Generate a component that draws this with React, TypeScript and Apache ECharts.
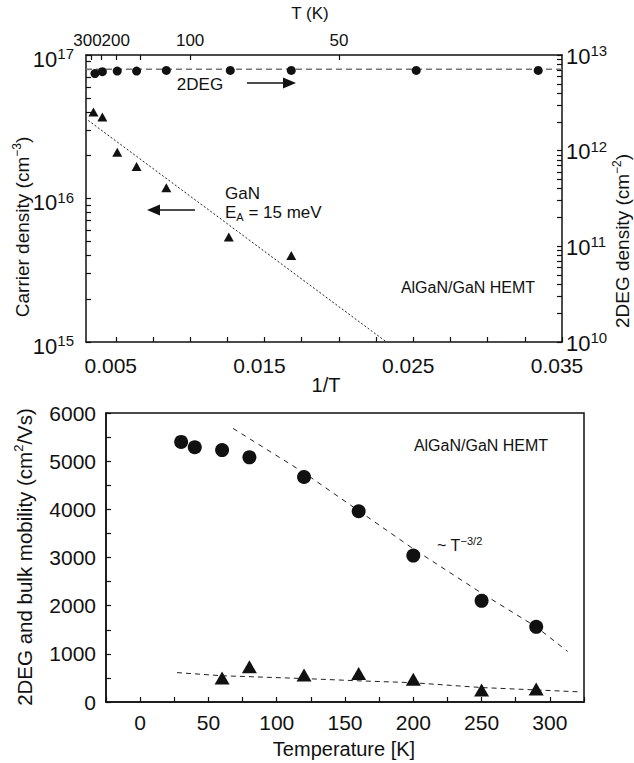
import React, { useEffect, useRef } from 'react';
import * as echarts from 'echarts';

// ---------- Top panel (x = 1/T in 1/K) ----------
const invT2DEG = [0.0036, 0.0041, 0.0051, 0.0064, 0.0084, 0.0127, 0.0168, 0.0252, 0.0334];
const dens2DEG = [6.4e12, 6.7e12, 6.8e12, 6.8e12, 6.9e12, 6.9e12, 6.9e12, 6.9e12, 6.9e12];
const ref2DEGx = [0.003, 0.035];
const ref2DEGy = [7.1e12, 7.1e12];
const invTGaN = [0.0035, 0.0041, 0.0051, 0.0064, 0.0084, 0.0126, 0.0168];
const densGaN = [4.0e16, 3.7e16, 2.1e16, 1.67e16, 1.19e16, 5.4e15, 4.0e15];
const fitGaNx = [0.00315, 0.0232];
const fitGaNy = [3.5e16, 1e15];

const invTTicks = [0.005, 0.0075, 0.01, 0.0125, 0.015, 0.0175, 0.02, 0.0225, 0.025, 0.0275, 0.03, 0.0325, 0.035];
const invTLabels = [0.005, 0.015, 0.025, 0.035];
const topTickTemps = [300, 250, 200, 150, 100, 50];
const topLabelTemps = [300, 200, 100, 50];
const leftDecades = [1e15, 1e16, 1e17];
const rightDecades = [1e10, 1e11, 1e12, 1e13];
const mantissas = [1, 2, 3, 4, 5, 6, 7, 8, 9];

// ---------- Bottom panel (mobility vs T) ----------
const tempMob = [30, 40, 60, 80, 120, 160, 200, 250, 290];
const mob2DEG = [5400, 5290, 5230, 5080, 4670, 3960, 3040, 2100, 1560];
const tempBulk = [60, 80, 120, 160, 200, 250, 290];
const mobBulk = [500, 730, 560, 590, 470, 250, 270];
const fit2DEGT = [68, 120, 200, 250, 290, 313];
const fit2DEGMob = [5680, 4760, 3180, 2260, 1560, 1050];
const fitBulkT = [27, 60, 117, 160, 200, 250, 322];
const fitBulkMob = [610, 545, 490, 440, 400, 300, 210];
const tempLabels = [0, 50, 100, 150, 200, 250, 300];
const mobLabels = [0, 1000, 2000, 3000, 4000, 5000, 6000];

const font = 'Liberation Sans, Arial, Helvetica, sans-serif';
const ink = '#111';

const zip = (a: number[], b: number[]) => a.map((v, i) => [v, b[i]]);
const logTicks = (decades: number[]) => {
  const out: number[] = [];
  decades.forEach((d, i) => {
    if (i === decades.length - 1) out.push(d);
    else mantissas.forEach((m) => out.push(m * d));
  });
  return out;
};

const supRich = {
  b: { fontSize: 22, fontFamily: font, color: ink, lineHeight: 24, verticalAlign: 'bottom' },
  s: { fontSize: 15, fontFamily: font, color: ink, lineHeight: 14, verticalAlign: 'top' },
};
const supLabel = (v: number) => `{b|10}{s|${Math.round(Math.log10(v))}}`;

const axisLine = { show: true, onZero: false, lineStyle: { color: ink, width: 1.5 } };
const tickStyle = { color: ink, width: 1.2 };
const labelBase = { hideOverlap: false, showMinLabel: true, showMaxLabel: true };

function buildOption(): any {
  return {
    animation: false,
    backgroundColor: '#fff',
    grid: [
      { left: 86, top: 55, width: 476, height: 287, show: false },
      { left: 106, top: 413, width: 478, height: 289, show: true, borderColor: ink, borderWidth: 1.5, backgroundColor: 'transparent' },
    ],
    xAxis: [
      {
        type: 'value', gridIndex: 0, position: 'bottom', min: 0.003, max: 0.035,
        axisLine, splitLine: { show: false },
        axisTick: { show: true, inside: true, length: 5, customValues: invTTicks, lineStyle: tickStyle },
        axisLabel: {
          ...labelBase,
          customValues: invTLabels, formatter: (v: number) => v.toFixed(3),
          fontSize: 21, color: ink, fontFamily: font, margin: 13, padding: [0, 10, 0, 0],
        },
      },
      {
        type: 'value', gridIndex: 0, position: 'top', min: 0.003, max: 0.035,
        axisLine, splitLine: { show: false },
        axisTick: { show: true, inside: true, length: 5, customValues: topTickTemps.map((t) => 1 / t), lineStyle: tickStyle },
        axisLabel: {
          ...labelBase,
          customValues: topLabelTemps.slice(1).map((t) => 1 / t), formatter: (v: number) => String(Math.round(1 / v)),
          fontSize: 17, color: ink, fontFamily: font, margin: 6,
        },
      },
      {
        type: 'value', gridIndex: 1, position: 'bottom', min: -25, max: 325, interval: 25,
        axisLine, splitLine: { show: false },
        axisTick: { show: true, inside: true, length: 5, lineStyle: tickStyle },
        axisLabel: {
          ...labelBase,
          customValues: tempLabels, formatter: (v: number) => String(v),
          fontSize: 21, color: ink, fontFamily: font, margin: 10,
        },
      },
      {
        type: 'value', gridIndex: 0, position: 'top', min: 0.003, max: 0.035,
        axisLine: { show: false }, axisTick: { show: false }, splitLine: { show: false },
        axisLabel: {
          ...labelBase,
          customValues: topLabelTemps.slice(0, 1).map((t) => 1 / t), formatter: (v: number) => String(Math.round(1 / v)),
          fontSize: 17, color: ink, fontFamily: font, margin: 6, padding: [0, 7, 0, 0],
        },
      },
    ],
    yAxis: [
      {
        type: 'log', logBase: 10, gridIndex: 0, position: 'left', min: 1e15, max: 1e17,
        axisLine, splitLine: { show: false },
        axisTick: { show: true, inside: true, length: 5, customValues: logTicks(leftDecades), lineStyle: tickStyle },
        axisLabel: { ...labelBase, customValues: leftDecades, formatter: supLabel, rich: supRich, margin: 12, padding: [6, 0, 0, 0] },
      },
      {
        type: 'log', logBase: 10, gridIndex: 0, position: 'right', min: 1e10, max: 1e13,
        axisLine, splitLine: { show: false },
        axisTick: { show: true, inside: true, length: 5, customValues: logTicks(rightDecades), lineStyle: tickStyle },
        axisLabel: { ...labelBase, customValues: rightDecades, formatter: supLabel, rich: supRich, margin: 4 },
      },
      {
        type: 'value', gridIndex: 1, position: 'left', min: 0, max: 6000, interval: 500,
        axisLine, splitLine: { show: false },
        axisTick: { show: true, inside: true, length: 5, lineStyle: tickStyle },
        axisLabel: {
          ...labelBase,
          customValues: mobLabels, formatter: (v: number) => String(v),
          fontSize: 21, color: ink, fontFamily: font, margin: 10,
        },
      },
    ],
    series: [
      {
        type: 'line', xAxisIndex: 0, yAxisIndex: 1, data: zip(ref2DEGx, ref2DEGy), symbol: 'none',
        lineStyle: { color: '#777', width: 1.6, type: [6, 4] }, z: 2,
      },
      {
        type: 'scatter', xAxisIndex: 0, yAxisIndex: 1, data: zip(invT2DEG, dens2DEG),
        symbol: 'circle', symbolSize: 9, itemStyle: { color: ink, opacity: 1 }, z: 3,
      },
      {
        type: 'line', xAxisIndex: 0, yAxisIndex: 0, data: zip(fitGaNx, fitGaNy), symbol: 'none',
        lineStyle: { color: '#222', width: 1, type: [2, 2] }, z: 2,
      },
      {
        type: 'scatter', xAxisIndex: 0, yAxisIndex: 0, data: zip(invTGaN, densGaN),
        symbol: 'triangle', symbolSize: [10, 9], itemStyle: { color: ink, opacity: 1 }, z: 3,
      },
      {
        type: 'line', xAxisIndex: 2, yAxisIndex: 2, data: zip(fit2DEGT, fit2DEGMob), symbol: 'none',
        lineStyle: { color: '#222', width: 1, type: [5, 5] }, z: 2,
      },
      {
        type: 'line', xAxisIndex: 2, yAxisIndex: 2, data: zip(fitBulkT, fitBulkMob), symbol: 'none',
        lineStyle: { color: '#222', width: 1, type: [5, 4] }, z: 2,
      },
      {
        type: 'scatter', xAxisIndex: 2, yAxisIndex: 2, data: zip(tempMob, mob2DEG),
        symbol: 'circle', symbolSize: 14, itemStyle: { color: ink, opacity: 1 }, z: 3,
      },
      {
        type: 'scatter', xAxisIndex: 2, yAxisIndex: 2, data: zip(tempBulk, mobBulk),
        symbol: 'triangle', symbolSize: [15, 13], itemStyle: { color: ink, opacity: 1 }, z: 3,
      },
    ],
    graphic: [
      { type: 'text', x: 310, y: 13, style: { text: 'T (K)', font: `17px ${font}`, fill: ink, align: 'center', verticalAlign: 'middle' } },
      { type: 'text', x: 326, y: 385, style: { text: '1/T', font: `20px ${font}`, fill: ink, align: 'center', verticalAlign: 'middle' } },
      {
        type: 'text', x: 22, y: 227, rotation: Math.PI / 2,
        style: {
          text: 'Carrier density (cm{s|−3})', font: `19px ${font}`, fill: ink, align: 'center', verticalAlign: 'middle', lineHeight: 22,
          rich: { s: { fontSize: 12, fontFamily: font, fill: ink, lineHeight: 11, verticalAlign: 'top' } },
        },
      },
      {
        type: 'text', x: 622, y: 241, rotation: Math.PI / 2,
        style: {
          text: '2DEG density (cm{s|−2})', font: `19px ${font}`, fill: ink, align: 'center', verticalAlign: 'middle', lineHeight: 22,
          rich: { s: { fontSize: 12, fontFamily: font, fill: ink, lineHeight: 11, verticalAlign: 'top' } },
        },
      },
      { type: 'text', x: 200, y: 84, style: { text: '2DEG', font: `17px ${font}`, fill: ink, align: 'center', verticalAlign: 'middle' } },
      { type: 'line', shape: { x1: 247, y1: 83, x2: 285, y2: 83 }, style: { stroke: ink, lineWidth: 1.5 } },
      { type: 'polygon', shape: { points: [[283, 77.5], [296, 83], [283, 88.5]] }, style: { fill: ink } },
      { type: 'text', x: 225, y: 193, style: { text: 'GaN', font: `17px ${font}`, fill: ink, align: 'left', verticalAlign: 'middle' } },
      {
        type: 'text', x: 225, y: 212,
        style: {
          text: 'E{sub|A} = 15 meV', font: `17px ${font}`, fill: ink, align: 'left', verticalAlign: 'middle', lineHeight: 20,
          rich: { sub: { fontSize: 11, fontFamily: font, fill: ink, lineHeight: 12, verticalAlign: 'bottom' } },
        },
      },
      { type: 'line', shape: { x1: 195, y1: 210, x2: 158, y2: 210 }, style: { stroke: ink, lineWidth: 1.5 } },
      { type: 'polygon', shape: { points: [[160, 204.5], [147, 210], [160, 215.5]] }, style: { fill: ink } },
      { type: 'text', x: 468, y: 287, style: { text: 'AlGaN/GaN HEMT', font: `16px ${font}`, fill: ink, align: 'center', verticalAlign: 'middle' } },
      { type: 'text', x: 481, y: 445, style: { text: 'AlGaN/GaN HEMT', font: `16px ${font}`, fill: ink, align: 'center', verticalAlign: 'middle' } },
      {
        type: 'text', x: 437, y: 545,
        style: {
          text: '~ T{s|−3/2}', font: `16px ${font}`, fill: ink, align: 'left', verticalAlign: 'middle', lineHeight: 20,
          rich: { s: { fontSize: 11, fontFamily: font, fill: ink, lineHeight: 10, verticalAlign: 'top' } },
        },
      },
      {
        type: 'text', x: 24, y: 557, rotation: Math.PI / 2,
        style: {
          text: '2DEG and bulk mobility (cm{s|2}/Vs)', font: `20.5px ${font}`, fill: ink, align: 'center', verticalAlign: 'middle', lineHeight: 24,
          rich: { s: { fontSize: 13, fontFamily: font, fill: ink, lineHeight: 12, verticalAlign: 'top' } },
        },
      },
      { type: 'text', x: 344, y: 749, style: { text: 'Temperature [K]', font: `20px ${font}`, fill: ink, align: 'center', verticalAlign: 'middle' } },
    ],
  };
}

export default function App() {
  const ref = useRef<HTMLDivElement>(null);
  useEffect(() => {
    if (!ref.current) return;
    const chart = echarts.init(ref.current, null, { renderer: 'svg' });
    chart.setOption(buildOption());
    return () => chart.dispose();
  }, []);
  return (
    <div
      ref={ref}
      style={{ position: 'absolute', left: 0, top: 0, width: 634, height: 763, background: '#fff' }}
    />
  );
}
